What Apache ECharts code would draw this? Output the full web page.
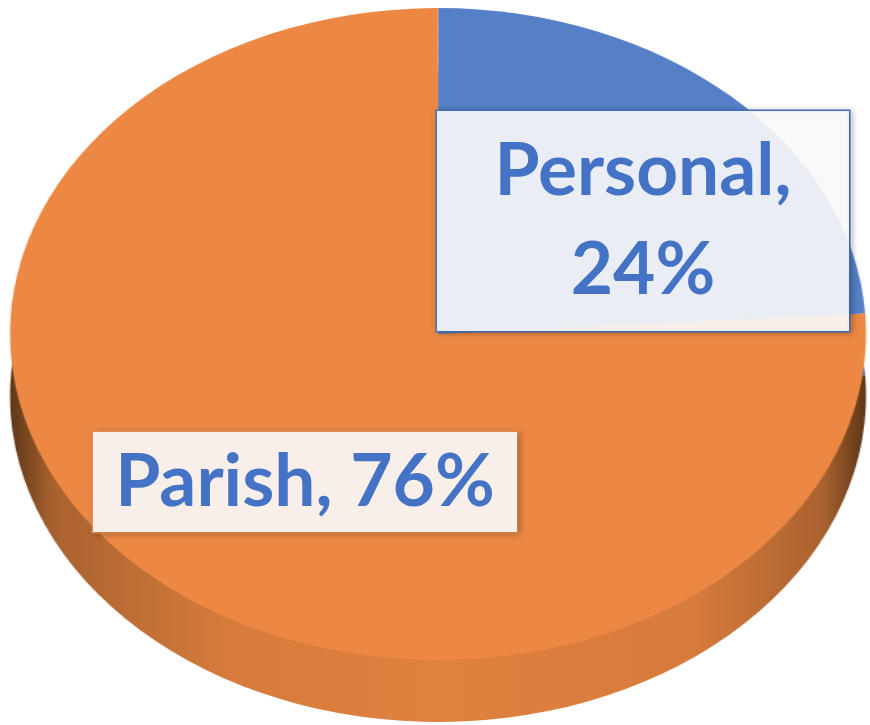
<!DOCTYPE html>
<html>
<head>
<meta charset="utf-8">
<title>Personal / Parish</title>
<script src="https://cdn.jsdelivr.net/npm/echarts@6/dist/echarts.min.js"></script>
<style>
	html, body { margin: 0; padding: 0; background: #fff; overflow: hidden; }
	#wrap { position: relative; width: 870px; height: 725px; }
	/* pie drawn round, then stretched into an ellipse */
	#pie { position: absolute; left: 0; top: 0; width: 665px; height: 725px; transform: scaleX(1.3129); transform-origin: 0 0; }
	#labels { position: absolute; left: 0; top: 0; width: 870px; height: 725px; }
</style>
</head>
<body>
<div id="wrap">
	<div id="pie"></div>
	<div id="labels"></div>
</div>
<script>
	var categories = ['Personal', 'Parish'];
	var shares = [24, 76];

	var topColors = ['#5580c7', '#ec8844'];
	var sideColors = ['#4a69ab', {
		type: 'linear', x: 0, y: 0, x2: 1, y2: 0,
		colorStops: [
			{ offset: 0, color: '#5e3718' },
			{ offset: 0.05, color: '#a9622f' },
			{ offset: 0.25, color: '#d67b3c' },
			{ offset: 0.5, color: '#e0823f' },
			{ offset: 0.8, color: '#d67b3c' },
			{ offset: 0.95, color: '#a9622f' },
			{ offset: 1, color: '#5e3718' }
		]
	}];

	function pieData(colors) {
		return categories.map(function(name, i) {
			return { name: name, value: shares[i], itemStyle: { color: colors[i] } };
		});
	}

	//饼图本体（侧面 + 顶面）
	var pieChart = echarts.init(document.getElementById('pie'));
	pieChart.setOption({
		animation: false,
		series: [{
			type: 'pie',
			silent: true,
			center: [333.6, 396],
			radius: 326,
			startAngle: 90,
			label: { show: false },
			labelLine: { show: false },
			data: pieData(sideColors)
		}, {
			type: 'pie',
			silent: true,
			center: [333.6, 334],
			radius: 326,
			startAngle: 90,
			label: { show: false },
			labelLine: { show: false },
			data: pieData(topColors)
		}]
	});

	//标签（不拉伸）
	var labelPos = [[643, 221], [305, 482]];
	var labelChart = echarts.init(document.getElementById('labels'));
	labelChart.setOption({
		animation: false,
		series: [{
			type: 'pie',
			silent: true,
			center: [435, 360],
			radius: 10,
			startAngle: 90,
			itemStyle: { color: 'transparent' },
			labelLine: { show: false },
			label: {
				show: true,
				position: 'inside',
				align: 'center',
				verticalAlign: 'middle',
				overflow: 'none',
				fontFamily: 'Lato',
				fontWeight: 'bold',
				fontSize: 73,
				color: '#4472c4',
				backgroundColor: 'rgba(255,255,255,0.89)',
				shadowColor: 'rgba(0,0,0,0.25)',
				shadowBlur: 6,
				shadowOffsetX: 2,
				shadowOffsetY: 1,
				formatter: function(p) {
					return p.dataIndex === 0 ? p.name + ',\n' + p.percent + '%' : p.name + ', ' + p.percent + '%';
				}
			},
			labelLayout: function(params) {
				var pos = labelPos[params.dataIndex];
				return { x: pos[0], y: pos[1] };
			},
			data: [{
				name: categories[0],
				value: shares[0],
				label: {
					lineHeight: 99,
					width: 310,
					height: 198,
					padding: [11, 51],
					borderColor: '#4a76c6',
					borderWidth: 1.5
				}
			}, {
				name: categories[1],
				value: shares[1],
				label: {
					lineHeight: 86,
					width: 394,
					height: 86,
					padding: [7, 15],
					borderColor: 'rgba(240,150,90,0.8)',
					borderWidth: 1.5
				}
			}]
		}]
	});
</script>
</body>
</html>
